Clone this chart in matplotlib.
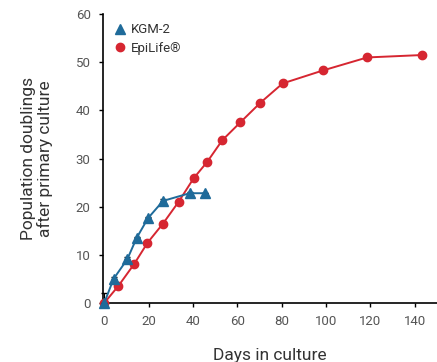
import matplotlib
matplotlib.use("Agg")
import matplotlib.pyplot as plt
from matplotlib.lines import Line2D

# KGM-2 series (days, population doublings)
kgm_days = [0, 4.2, 10.4, 14.6, 19.7, 26.5, 38.5, 45.6]
kgm_pd = [0, 5.0, 9.1, 13.5, 17.6, 21.2, 22.8, 22.8]
kgm_err = [2.0, 0.4, 0.4, 0.3, 0.3, 0.3, 0.2, 0.0]

# EpiLife series
epi_days = [0, 6.3, 13.5, 19.5, 26.5, 33.5, 40.3, 46.4, 53.2, 61.3, 70.4, 80.4, 98.6, 118.5, 143.2]
epi_pd = [0, 3.5, 8.1, 12.5, 16.5, 21.0, 25.9, 29.3, 33.8, 37.5, 41.6, 45.6, 48.3, 51.0, 51.5]

red = "#d62631"
blue = "#1f6b9a"
grey = "#555555"

plt.rcParams["font.family"] = ["Roboto", "DejaVu Sans"]

fig = plt.figure(figsize=(4.37, 3.62), dpi=100)
ax = fig.add_axes([0.236, 0.163, 0.764, 0.798])

ax.plot(epi_days, epi_pd, color=red, lw=1.4, marker="o", ms=6, zorder=3)
# error bars only drawn upward
ax.errorbar(kgm_days, kgm_pd, yerr=[[0] * len(kgm_err), kgm_err], color=blue,
            lw=1.4, marker="^", ms=6.5, ecolor="black", elinewidth=0.8,
            capsize=2.5, zorder=4)

ax.set_xlim(-0.5, 150)
ax.set_ylim(0, 60)
ax.set_xticks(range(0, 141, 20))
ax.set_yticks(range(0, 61, 10))
for s in ["top", "right"]:
    ax.spines[s].set_visible(False)
for s in ["left", "bottom"]:
    ax.spines[s].set_linewidth(1.2)
ax.tick_params(direction="out", length=3, width=1, colors="black",
               labelcolor=grey, labelsize=9.5, pad=6)
for m in ax.get_children():
    try:
        m.set_clip_on(False)
    except Exception:
        pass

ax.set_xlabel("Days in culture", fontsize=12.5, color="#333333", labelpad=14)
ax.set_ylabel("Population doublings\nafter primary culture", fontsize=12.5,
              color="#333333", labelpad=16, linespacing=1.1)

handles = [Line2D([], [], color=blue, marker="^", ls="none", ms=6.5),
           Line2D([], [], color=red, marker="o", ls="none", ms=6)]
ax.legend(handles, ["KGM-2", "EpiLife\u00ae"], loc="upper left", frameon=False,
          fontsize=9.5, handletextpad=0.2, borderaxespad=0.3, labelspacing=0.4,
          handlelength=1.2, labelcolor="#333333")

fig.savefig("out.png", dpi=100)
